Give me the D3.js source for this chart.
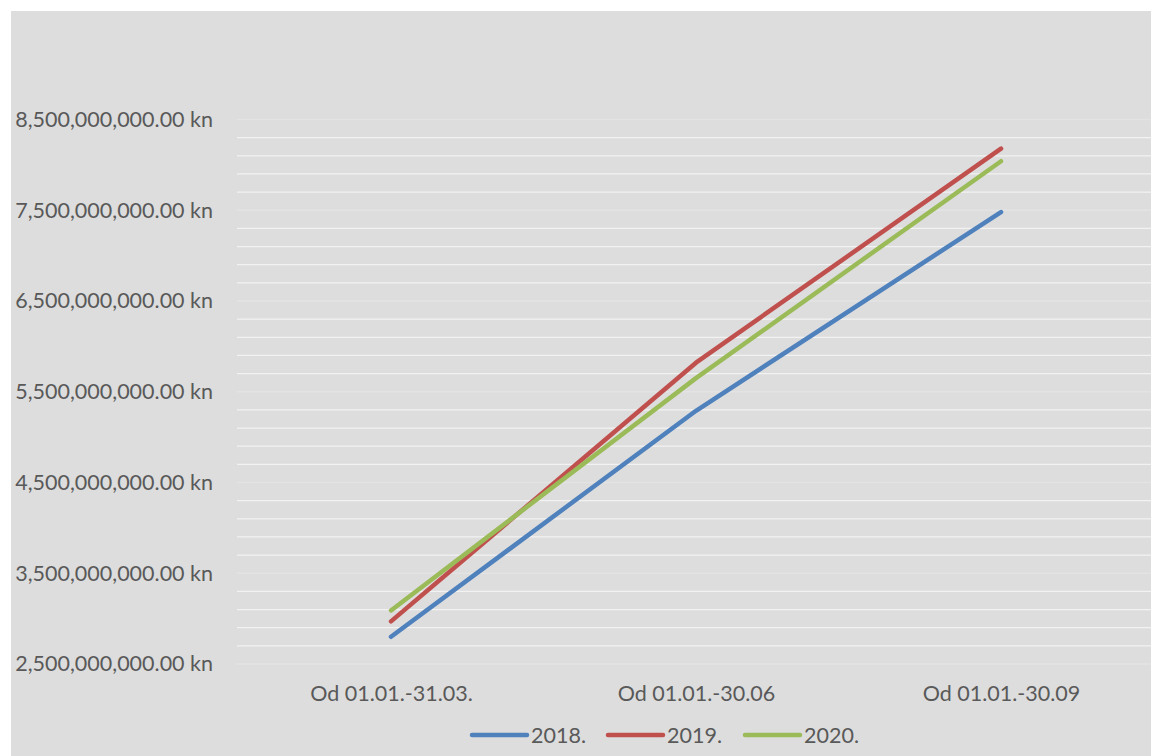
<!DOCTYPE html>
<html><head><meta charset="utf-8">
<script src="https://cdn.jsdelivr.net/npm/d3@7"></script>
<style>
html,body{margin:0;padding:0;background:#fff;overflow:hidden}
text{font-family:Lato,"Open Sans",sans-serif;fill:#595959}
</style></head>
<body>
<svg id="c" width="1151" height="756"></svg>
<script>
const categories = ["Od 01.01.-31.03.", "Od 01.01.-30.06", "Od 01.01.-30.09"];
const years = ["2018.", "2019.", "2020."];
const values2018 = [2800000000, 5290000000, 7480000000];
const values2019 = [2970000000, 5820000000, 8180000000];
const values2020 = [3090000000, 5650000000, 8040000000];
const yTicks = [2500000000, 3500000000, 4500000000, 5500000000, 6500000000, 7500000000, 8500000000];
const colors = ["#4F81BD", "#C0504D", "#9BBB59"];
const seriesValues = [values2018, values2019, values2020];
const FS = "21.5px";

const svg = d3.select("#c");
svg.append("rect").attr("x",11).attr("y",11).attr("width",1151).attr("height",760).attr("fill","#dddddd");

const x = d3.scalePoint().domain(categories).range([391, 1001]);
const y = d3.scaleLinear().domain([2500000000, 8500000000]).range([664, 119.5]);
const plotL = 237, plotR = 1160;

// minor gridlines every 200M
const minor = d3.range(2500000000, 8500000001, 200000000).filter(v => !yTicks.includes(v));
svg.append("g").selectAll("line").data(minor).join("line")
  .attr("x1",plotL).attr("x2",plotR)
  .attr("y1",d=>y(d)).attr("y2",d=>y(d))
  .attr("stroke","#f2f2f2").attr("stroke-width",1.3);
// major gridlines (faint)
svg.append("g").selectAll("line").data(yTicks).join("line")
  .attr("x1",plotL).attr("x2",plotR)
  .attr("y1",d=>y(d)).attr("y2",d=>y(d))
  .attr("stroke","#e3e3e3").attr("stroke-width",1.3);

const fmt = d3.format(",.2f");
const yAxis = d3.axisLeft(y).tickValues(yTicks).tickSize(0).tickPadding(0).tickFormat(d => fmt(d) + " kn");
const gy = svg.append("g").attr("transform","translate(213,0)").call(yAxis);
gy.select(".domain").remove();
gy.selectAll("text").style("font-size",FS).attr("fill","#595959").style("font-family","Lato");

const xAxis = d3.axisBottom(x).tickSize(0).tickPadding(0);
const gx = svg.append("g").attr("transform","translate(0,701)").call(xAxis);
gx.select(".domain").remove();
gx.selectAll("text").attr("dy",0).style("font-size",FS).attr("fill","#595959").style("font-family","Lato");

const line = d3.line().x((d,i)=>x(categories[i])).y(d=>y(d));
svg.append("g").selectAll("path").data(seriesValues).join("path")
  .attr("d", d=>line(d)).attr("fill","none")
  .attr("stroke",(d,i)=>colors[i]).attr("stroke-width",4.5)
  .attr("stroke-linecap","round").attr("stroke-linejoin","round");

// legend
const legX = [472, 608, 745];
const lg = svg.append("g").selectAll("g").data(years).join("g")
  .attr("transform",(d,i)=>`translate(${legX[i]},735)`);
lg.append("line").attr("x1",0).attr("x2",55).attr("y1",0).attr("y2",0)
  .attr("stroke",(d,i)=>colors[i]).attr("stroke-width",4.5).attr("stroke-linecap","round");
lg.append("text").attr("x",59).attr("y",0).attr("dy","0.35em")
  .style("font-size",FS).text(d=>d);
</script>
</body></html>
